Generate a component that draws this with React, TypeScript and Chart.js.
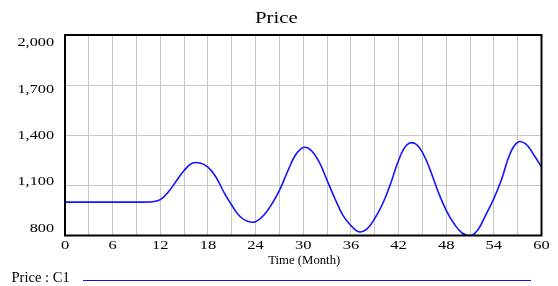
import { useEffect, useRef } from "react";
import { Chart, registerables } from "chart.js";

Chart.register(...registerables);

const chartTitle = "Price";
const xAxisTitle = "Time (Month)";
const legendLabel = "Price : C1";

const months = [
  0, 1, 2, 3, 4, 5, 6, 7, 8, 9, 10, 11, 12, 13, 14, 15, 16, 17, 18, 19, 20,
  21, 22, 23, 24, 25, 26, 27, 28, 29, 30, 31, 32, 33, 34, 35, 36, 37, 38, 39,
  40, 41, 42, 43, 44, 45, 46, 47, 48, 49, 50, 51, 52, 53, 54, 55, 56, 57, 58,
  59, 60,
];

const price = [
  1000, 1000, 1000, 1000, 1000, 1000, 1000, 1000, 1000, 1000, 1000, 1002, 1015,
  1060, 1125, 1189, 1232, 1234, 1209, 1150, 1060, 981, 915, 885, 882, 920, 985,
  1070, 1180, 1280, 1327, 1310, 1240, 1130, 1020, 920, 860, 822, 838, 902, 990,
  1110, 1249, 1340, 1352, 1298, 1190, 1060, 951, 870, 815, 798, 835, 925, 1021,
  1140, 1285, 1358, 1348, 1285, 1209,
];

const xTickValues = [0, 6, 12, 18, 24, 30, 36, 42, 48, 54, 60];
const yTickValues = [800, 1100, 1400, 1700, 2000];

const FONT = '"Liberation Serif", "Times New Roman", serif';

const textPlugin = {
  id: "vensimText",
  afterDraw(chart: any) {
    const { ctx, chartArea: a, scales } = chart;
    const x = scales.x;
    const y = scales.y;
    ctx.save();

    // frame
    ctx.strokeStyle = "#000";
    ctx.lineWidth = 2;
    ctx.strokeRect(a.left, a.top, a.right - a.left, a.bottom - a.top);

    const draw = (
      text: string,
      px: number,
      py: number,
      size: number,
      sx: number,
      align: CanvasTextAlign
    ) => {
      ctx.save();
      ctx.font = `${size}px ${FONT}`;
      ctx.textBaseline = "middle";
      ctx.textAlign = align;
      ctx.fillStyle = "#000";
      ctx.translate(px, py);
      ctx.scale(sx, 1);
      ctx.fillText(text, 0, 0);
      ctx.restore();
    };

    // title
    draw(chartTitle, (a.left + a.right) / 2 - 27, 18.5, 16, 1.3, "center");

    // y tick labels (spread inside the axis range)
    const n = yTickValues.length;
    yTickValues.forEach((v, i) => {
      const frac = i / (n - 1); // 0 bottom, 1 top
      const off = -7 + 15 * frac;
      draw(v.toLocaleString("en-US"), 54, y.getPixelForValue(v) + off, 12.5, 1.3, "right");
    });

    // x tick labels
    xTickValues.forEach((v) => {
      draw(String(v), x.getPixelForValue(v), 246, 12.5, 1.32, "center");
    });

    // x axis title
    draw(xAxisTitle, (a.left + a.right) / 2 + 1, 260.5, 12, 1.06, "center");

    // legend
    draw(legendLabel, 11.5, 278, 14, 1.04, "left");
    ctx.strokeStyle = "#1010ff";
    ctx.lineWidth = 1;
    ctx.beginPath();
    ctx.moveTo(83, 280.5);
    ctx.lineTo(531, 280.5);
    ctx.stroke();

    ctx.restore();
  },
};

export default function App() {
  const canvasRef = useRef<HTMLCanvasElement | null>(null);

  useEffect(() => {
    const canvas = canvasRef.current;
    if (!canvas) return;
    const chart = new Chart(canvas, {
      type: "line",
      data: {
        datasets: [
          {
            label: "Price : C1",
            data: months.map((m, i) => ({ x: m, y: price[i] })),
            borderColor: "#1414ff",
            borderWidth: 1.6,
            pointRadius: 0,
            fill: false,
            tension: 0.4,
          },
        ],
      },
      options: {
        animation: false,
        responsive: false,
        maintainAspectRatio: false,
        devicePixelRatio: 1,
        layout: { padding: { left: 0, right: 16.5, top: 35, bottom: 0 } },
        plugins: {
          legend: { display: false },
          title: { display: false },
          tooltip: { enabled: false },
        },
        scales: {
          x: {
            type: "linear",
            min: 0,
            max: 60,
            ticks: { display: false, stepSize: 3 },
            grid: { color: "#c8c8c8", lineWidth: 1, drawTicks: false },
            border: { display: false },
            afterFit: (s: any) => {
              s.height = 50.5;
            },
          },
          y: {
            type: "linear",
            min: 800,
            max: 2000,
            ticks: { display: false, stepSize: 300 },
            grid: { color: "#c8c8c8", lineWidth: 1, drawTicks: false },
            border: { display: false },
            afterFit: (s: any) => {
              s.width = 65;
            },
          },
        },
      },
      plugins: [textPlugin],
    });
    return () => chart.destroy();
  }, []);

  return (
    <div style={{ position: "absolute", left: 0, top: 0, width: 558, height: 286, background: "#fff" }}>
      <canvas ref={canvasRef} width={558} height={286} style={{ display: "block" }} />
    </div>
  );
}
